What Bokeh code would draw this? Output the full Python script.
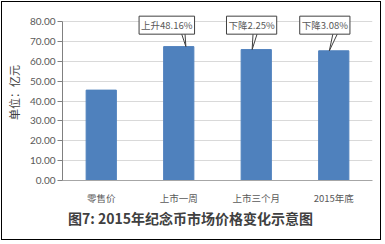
from bokeh.plotting import figure
from bokeh.models import (ColumnDataSource, FactorRange, Range1d, FixedTicker,
                          NumeralTickFormatter, Label, Title)
from bokeh.embed import file_html
from bokeh.resources import INLINE

# ---- data ----
categories = ["零售价", "上市一周", "上市三个月", "2015年底"]
values = [45.5, 67.4, 65.9, 65.3]
callout_texts = ["", "上升48.16%", "下降2.25%", "下降3.08%"]
y_ticks = [0, 10, 20, 30, 40, 50, 60, 70, 80]
title_text = "图7: 2015年纪念币市场价格变化示意图"
y_label = "单位：亿元"

# ---- layout / style constants ----
W, H = 378, 237
bar_color = "#4f81bd"
txt_gray = "#595959"
cjk = "Noto Sans CJK SC"
# callout offsets relative to bar centres (category units)
box_dx = [0, -0.154, -0.06, -0.115]
base_dx = [(0, 0), (0.028, 0.079), (-0.04, 0.02), (-0.005, 0.06)]
tip_dx = [0, 0.092, -0.053, -0.057]
box_y = 78.2
box_bottom = 74.4

p = figure(x_range=FactorRange(*categories), y_range=Range1d(0, 88.6),
           width=W, height=H, output_backend="svg", toolbar_location=None,
           min_border_left=60, min_border_right=10, min_border_top=2,
           min_border_bottom=61)
p.outline_line_color = None
p.background_fill_color = "white"
p.border_fill_color = "white"
p.styles = {"border": "1.5px solid black", "margin": "1px",
            "box-sizing": "content-box"}

src = ColumnDataSource(dict(x=categories, top=values))
p.vbar(x="x", top="top", width=0.39, source=src, fill_color=bar_color,
       line_color=bar_color)

# axes
p.xgrid.grid_line_color = None
p.ygrid.grid_line_color = "#d9d9d9"
p.ygrid.ticker = FixedTicker(ticks=y_ticks)
p.yaxis.ticker = FixedTicker(ticks=y_ticks)
p.yaxis.formatter = NumeralTickFormatter(format="0.00")
p.yaxis.bounds = (0, 80)
p.yaxis.axis_line_color = "#808080"
p.yaxis.major_tick_line_color = "#808080"
p.yaxis.major_tick_out = 5
p.yaxis.major_tick_in = 0
p.yaxis.minor_tick_line_color = None
p.yaxis.major_label_standoff = 2
p.yaxis.major_label_text_font = "Lato"
p.yaxis.major_label_text_font_size = "10px"
p.yaxis.major_label_text_color = txt_gray
p.yaxis.axis_label = y_label
p.yaxis.axis_label_standoff = 5
p.yaxis.axis_label_text_font = cjk
p.yaxis.axis_label_text_font_size = "11px"
p.yaxis.axis_label_text_font_style = "normal"
p.yaxis.axis_label_text_color = "#404040"

p.xaxis.axis_line_color = "#a6a6a6"
p.xaxis.major_tick_line_color = None
p.xaxis.minor_tick_line_color = None
p.xaxis.major_label_standoff = 4
p.xaxis.major_label_text_font = cjk
p.xaxis.major_label_text_font_size = "9.5px"
p.xaxis.major_label_text_color = txt_gray

# callouts
xs, ys = [], []
for i, t in enumerate(callout_texts):
    if not t:
        continue
    c = i + 0.5
    xs.append([c + base_dx[i][0], c + base_dx[i][1], c + tip_dx[i]])
    ys.append([box_bottom + 0.5, box_bottom + 0.5, values[i]])
p.patches(xs, ys, fill_color="white", line_color="#404040", line_width=1)

for i, t in enumerate(callout_texts):
    if not t:
        continue
    c = i + 0.5
    p.add_layout(Label(x=c + box_dx[i], y=box_y, text=t, text_align="center",
                       text_baseline="middle", text_font=cjk,
                       text_font_size="9.5px", text_color=txt_gray,
                       background_fill_color="white", border_line_color="#404040",
                       border_line_width=1, padding=2))

# title below the chart
p.add_layout(Title(text=title_text, align="left", offset=5.5,
                   text_font=cjk, text_font_size="14px", text_font_style="bold",
                   text_color="#404040", standoff=-3), "below")

open("out.html", "w").write(file_html(p, INLINE))
